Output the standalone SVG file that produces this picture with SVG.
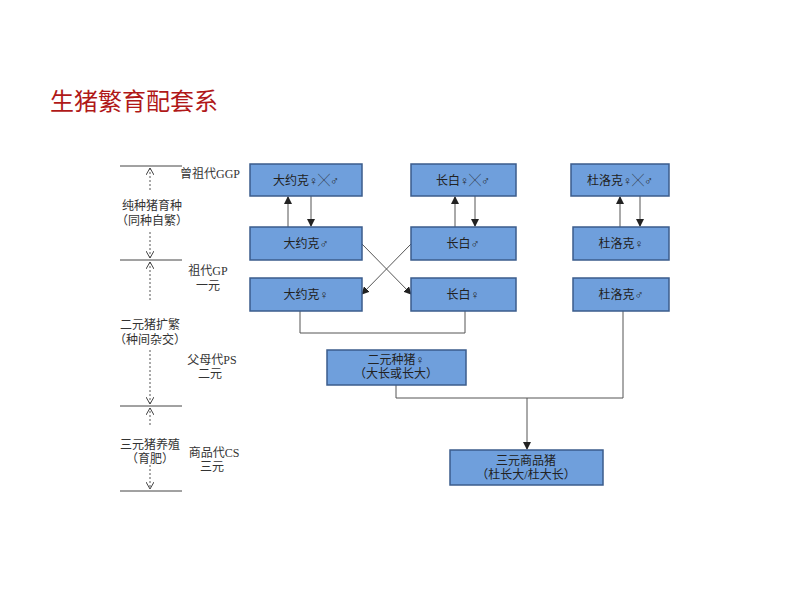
<svg xmlns="http://www.w3.org/2000/svg" width="800" height="600" viewBox="0 0 800 600">
<defs>
<style>
.b{fill:#6f9fdc;stroke:#3b5c8c;stroke-width:1.5}
.t{font-family:"Liberation Serif","Noto Sans CJK SC",serif;font-size:12px;fill:#222;text-anchor:middle}
.l{font-family:"Liberation Serif","Noto Sans CJK SC",serif;font-size:12px;fill:#333;text-anchor:middle}
.c{stroke:#555;stroke-width:1;fill:none}
.d{stroke:#555;stroke-width:1;stroke-dasharray:2,2;fill:none}
.h{stroke:#444;stroke-width:1}
</style>
<marker id="a" markerWidth="8" markerHeight="8" refX="7" refY="4" orient="auto" markerUnits="userSpaceOnUse"><path d="M0,0L8,4L0,8z" fill="#222"/></marker>
<marker id="o" markerWidth="8" markerHeight="8" refX="7" refY="4" orient="auto" markerUnits="userSpaceOnUse"><path d="M0,0L7,4L0,8" fill="none" stroke="#444"/></marker>
</defs>
<rect width="800" height="600" fill="#fff"/>
<text x="50" y="110" font-family="'Noto Sans CJK SC',serif" font-size="24" fill="#b01818">生猪繁育配套系</text>
<g id="scale">
<line class="h" x1="120" y1="166" x2="182" y2="166"/>
<line class="h" x1="120" y1="260" x2="182" y2="260"/>
<line class="h" x1="120" y1="406" x2="182" y2="406"/>
<line class="h" x1="120" y1="491" x2="182" y2="491"/>
<line class="d" x1="150" y1="190" x2="150" y2="168" marker-end="url(#o)"/>
<line class="d" x1="150" y1="232" x2="150" y2="258" marker-end="url(#o)"/>
<line class="d" x1="150" y1="300" x2="150" y2="262" marker-end="url(#o)"/>
<line class="d" x1="150" y1="350" x2="150" y2="404" marker-end="url(#o)"/>
<line class="d" x1="150" y1="425" x2="150" y2="408" marker-end="url(#o)"/>
<line class="d" x1="150" y1="465" x2="150" y2="489" marker-end="url(#o)"/>
<text class="l" x="210" y="178">曾祖代GGP</text>
<text class="l" x="152" y="210">纯种猪育种</text>
<text class="l" x="152" y="225">（同种自繁）</text>
<text class="l" x="208" y="275">祖代GP</text>
<text class="l" x="208" y="290">一元</text>
<text class="l" x="150" y="329">二元猪扩繁</text>
<text class="l" x="150" y="344">（种间杂交）</text>
<text class="l" x="212" y="364">父母代PS</text>
<text class="l" x="210" y="378">二元</text>
<text class="l" x="150" y="449">三元猪养殖</text>
<text class="l" x="150" y="463">（育肥）</text>
<text class="l" x="214" y="457">商品代CS</text>
<text class="l" x="212" y="471">三元</text>
</g>
<g id="connectors">
<line class="c" x1="288" y1="227" x2="288" y2="197" marker-end="url(#a)"/>
<line class="c" x1="311" y1="196" x2="311" y2="226" marker-end="url(#a)"/>
<line class="c" x1="455" y1="227" x2="455" y2="197" marker-end="url(#a)"/>
<line class="c" x1="475" y1="196" x2="475" y2="226" marker-end="url(#a)"/>
<line class="c" x1="620" y1="227" x2="620" y2="197" marker-end="url(#a)"/>
<line class="c" x1="640" y1="196" x2="640" y2="226" marker-end="url(#a)"/>
<line class="c" x1="362" y1="244" x2="411" y2="294" marker-end="url(#a)"/>
<line class="c" x1="411" y1="244" x2="362" y2="294" marker-end="url(#a)"/>
<polyline class="c" points="300,311 300,333 465,333 465,311"/>
<polyline class="c" points="396,385 396,398 623,398 623,311"/>
<line class="c" x1="527" y1="398" x2="527" y2="449" marker-end="url(#a)"/>
</g>
<g id="n1"><rect class="b" x="250" y="164" width="112" height="32"/><text class="t" x="306" y="185">大约克♀╳♂</text></g>
<g id="n2"><rect class="b" x="411" y="164" width="105" height="32"/><text class="t" x="463" y="185">长白♀╳♂</text></g>
<g id="n3"><rect class="b" x="571" y="164" width="98" height="32"/><text class="t" x="620" y="185">杜洛克♀╳♂</text></g>
<g id="n4"><rect class="b" x="250" y="227" width="112" height="33"/><text class="t" x="306" y="248">大约克♂</text></g>
<g id="n5"><rect class="b" x="411" y="227" width="105" height="33"/><text class="t" x="463" y="248">长白♂</text></g>
<g id="n6"><rect class="b" x="573" y="227" width="96" height="33"/><text class="t" x="621" y="248">杜洛克♀</text></g>
<g id="n7"><rect class="b" x="250" y="278" width="112" height="33"/><text class="t" x="306" y="299">大约克♀</text></g>
<g id="n8"><rect class="b" x="411" y="278" width="105" height="33"/><text class="t" x="463" y="299">长白♀</text></g>
<g id="n9"><rect class="b" x="573" y="278" width="96" height="33"/><text class="t" x="621" y="299">杜洛克♂</text></g>
<g id="n10"><rect class="b" x="327" y="350" width="139" height="35"/><text class="t" x="396" y="364">二元种猪♀</text><text class="t" x="396" y="378">（大长或长大）</text></g>
<g id="n11"><rect class="b" x="450" y="450" width="153" height="35"/><text class="t" x="526" y="465">三元商品猪</text><text class="t" x="526" y="479">（杜长大/杜大长）</text></g>
</svg>
